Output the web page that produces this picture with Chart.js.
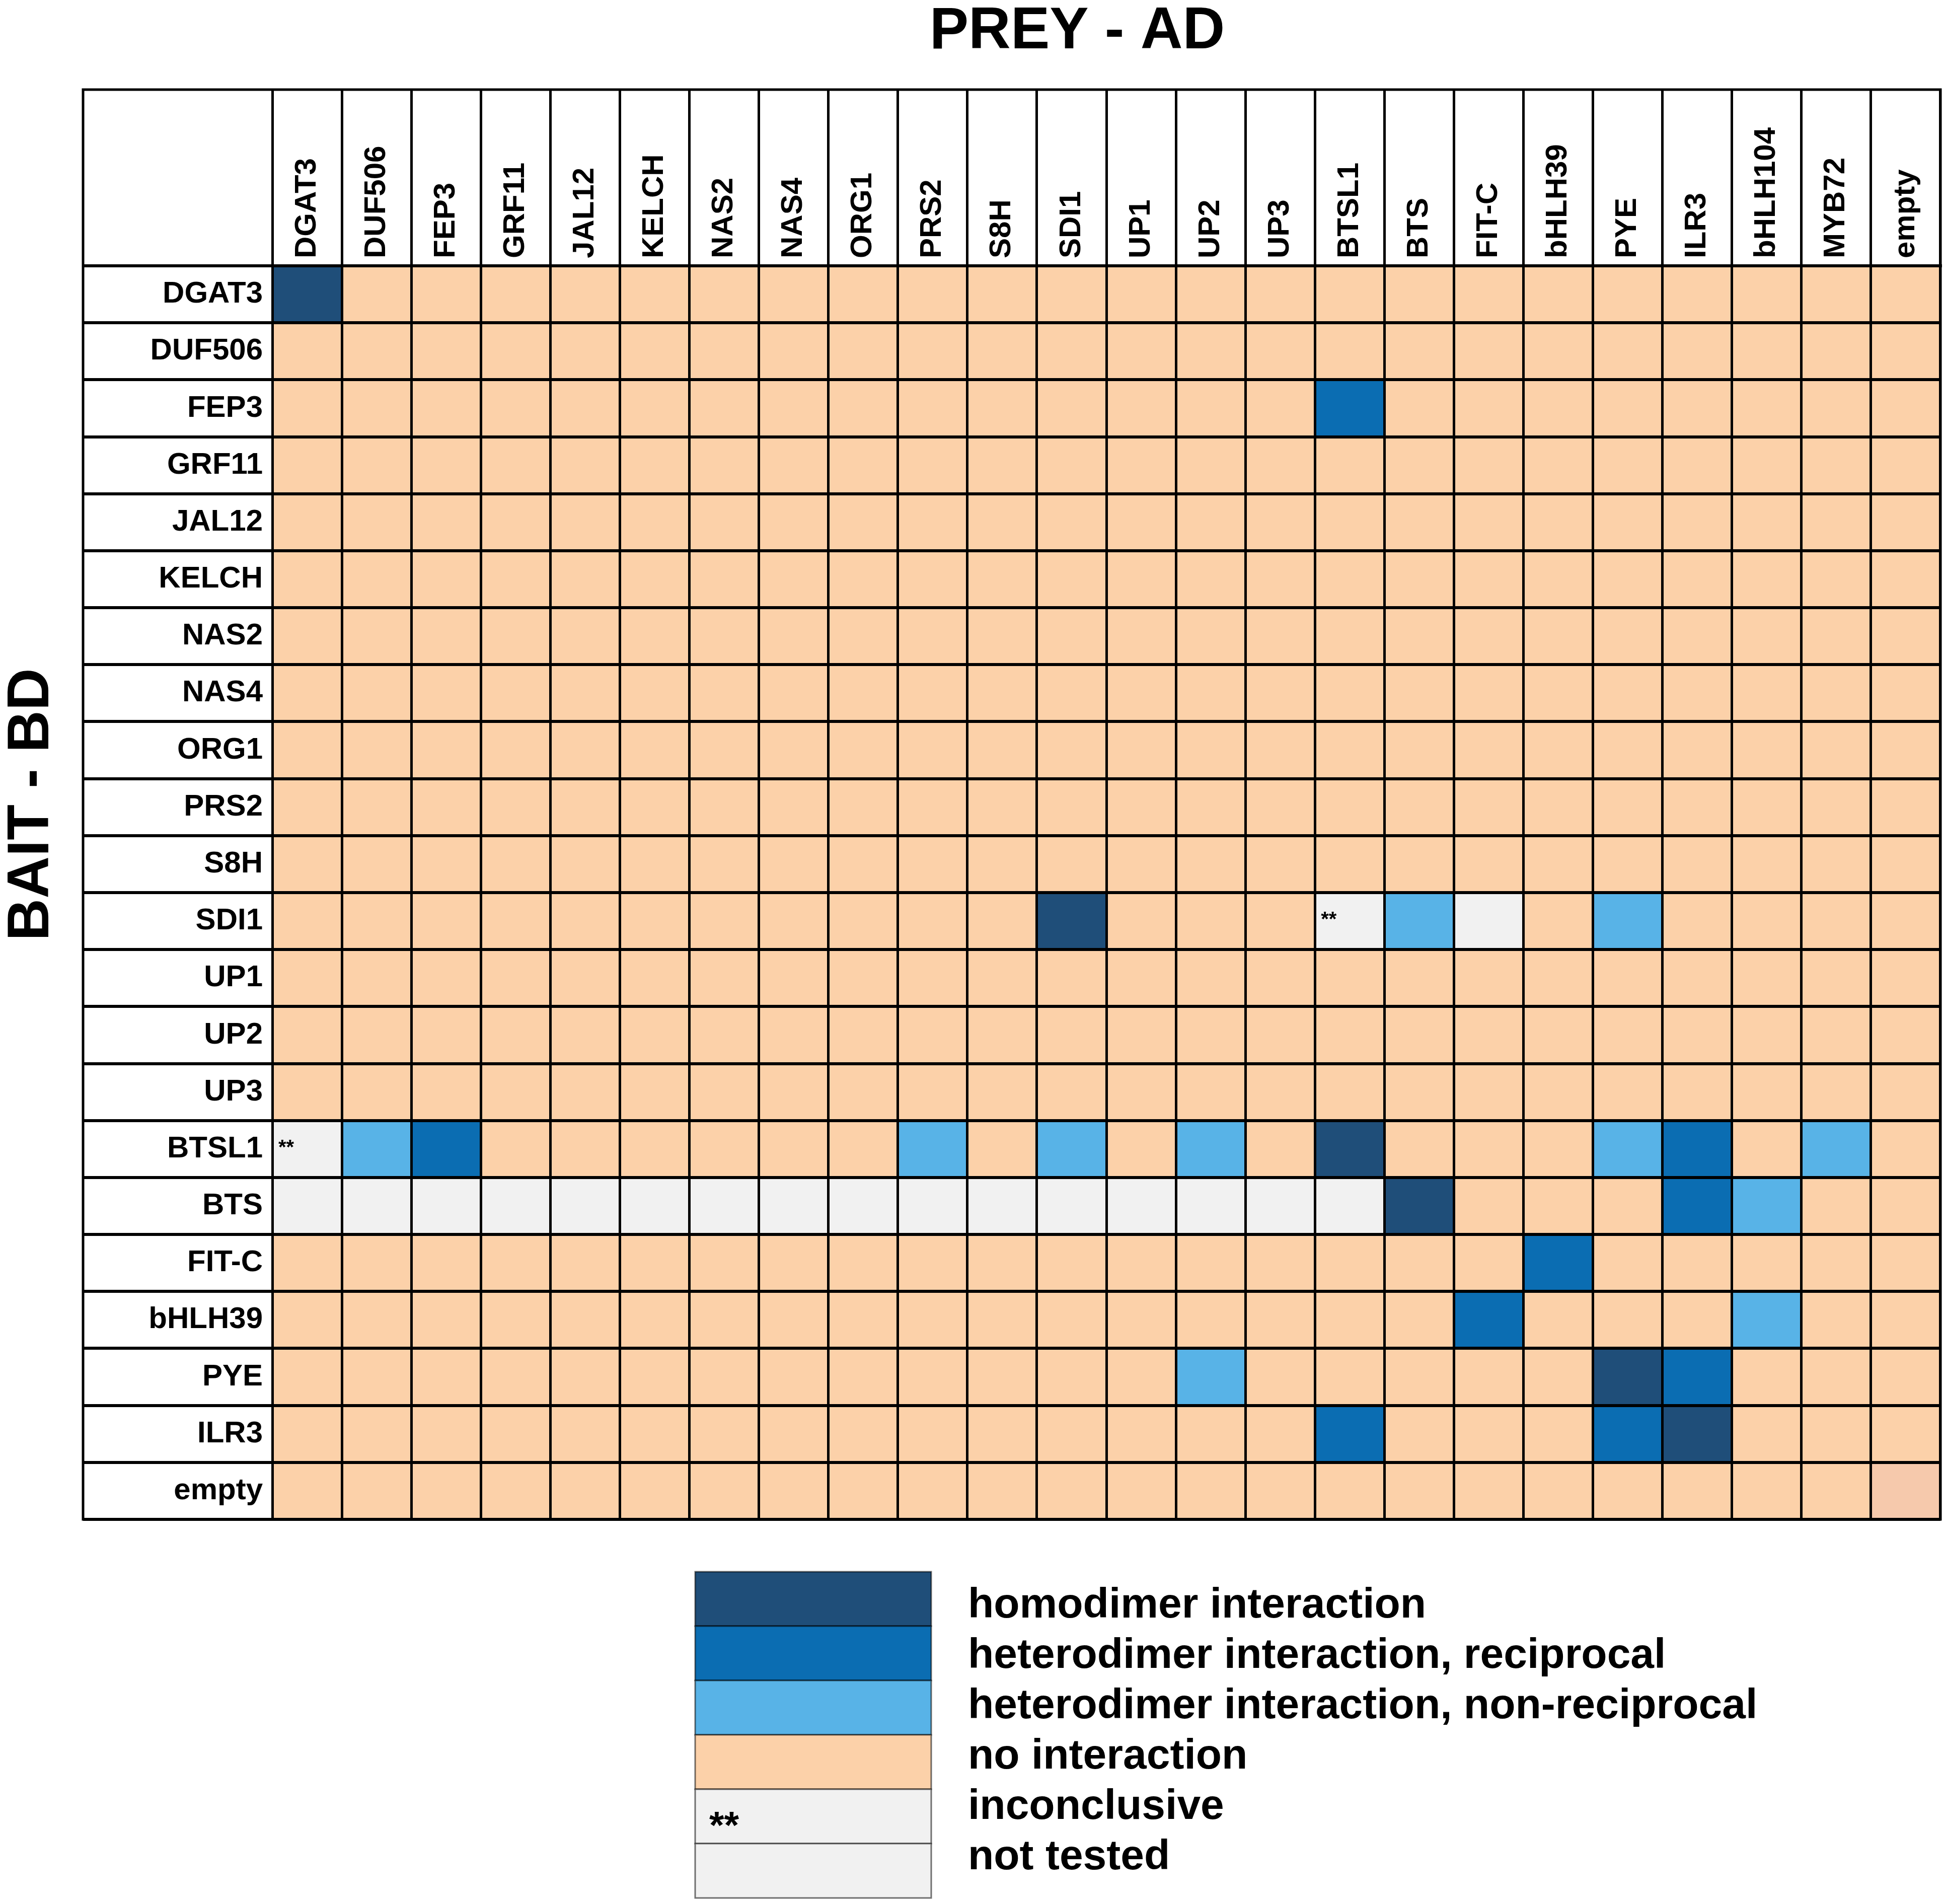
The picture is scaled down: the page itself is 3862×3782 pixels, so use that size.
<!DOCTYPE html>
<html>
<head>
<meta charset="utf-8">
<title>PREY - AD / BAIT - BD</title>
<script src="https://cdn.jsdelivr.net/npm/chart.js@4.4.1/dist/chart.umd.min.js"></script>
<style>
  html, body { margin: 0; padding: 0; background: #fff; }
  canvas { display: block; }
</style>
</head>
<body>
<canvas id="grafico" width="3862" height="3782"></canvas>
<script>
// prey (AD) columns
var presas = ['DGAT3', 'DUF506', 'FEP3', 'GRF11', 'JAL12', 'KELCH', 'NAS2', 'NAS4', 'ORG1', 'PRS2', 'S8H', 'SDI1',
              'UP1', 'UP2', 'UP3', 'BTSL1', 'BTS', 'FIT-C', 'bHLH39', 'PYE', 'ILR3', 'bHLH104', 'MYB72', 'empty'];

// bait (BD) rows
var iscas = ['DGAT3', 'DUF506', 'FEP3', 'GRF11', 'JAL12', 'KELCH', 'NAS2', 'NAS4', 'ORG1', 'PRS2', 'S8H', 'SDI1',
             'UP1', 'UP2', 'UP3', 'BTSL1', 'BTS', 'FIT-C', 'bHLH39', 'PYE', 'ILR3', 'empty'];

// one string per bait row, one letter per prey column
// H homodimer, R reciprocal, N non-reciprocal, . no interaction, I inconclusive, T not tested, E empty control
var resultados = [
    'H.......................',
    '........................',
    '...............R........',
    '........................',
    '........................',
    '........................',
    '........................',
    '........................',
    '........................',
    '........................',
    '........................',
    '...........H...INT.N....',
    '........................',
    '........................',
    '........................',
    'INR......N.N.N.H...NR.N.',
    'TTTTTTTTTTTTTTTTH...RN..',
    '..................R.....',
    '.................R...N..',
    '.............N.....HR...',
    '...............R...RH...',
    '.......................E'
];

var legendaCodigos = ['H', 'R', 'N', '.', 'I', 'T'];
var legendaTextos = ['homodimer interaction', 'heterodimer interaction, reciprocal',
                     'heterodimer interaction, non-reciprocal', 'no interaction', 'inconclusive', 'not tested'];

var cores = {
    'H': '#1F4E79',
    'R': '#0B6DB2',
    'N': '#58B3E7',
    '.': '#FCD1A9',
    'I': '#F1F1F1',
    'T': '#F1F1F1',
    'E': '#F6C9AC'
};

var FONTE = '"Liberation Sans", Arial, sans-serif';
Chart.defaults.font.family = FONTE;
Chart.defaults.color = '#000';

// frame, titles, ** marks and legend
var moldura = {
    id: 'moldura',
    afterDraw: function(chart) {
        var ctx = chart.ctx;
        var area = chart.chartArea;
        var sx = chart.scales.x;
        var sr = chart.scales.rows;
        ctx.save();

        ctx.strokeStyle = '#000';
        ctx.lineWidth = 5;
        ctx.strokeRect(sr.left, sx.top, area.right - sr.left, area.bottom - sx.top);

        ctx.fillStyle = '#000';
        ctx.textAlign = 'left';
        ctx.textBaseline = 'alphabetic';
        ctx.font = 'bold 40px ' + FONTE;
        chart.data.datasets.forEach(function(ds, r) {
            var meta = chart.getDatasetMeta(r);
            ds.codigos.forEach(function(c, i) {
                if (c !== 'I') return;
                var bar = meta.data[i].getProps(['x', 'y', 'base', 'width'], true);
                ctx.fillText('**', bar.x - bar.width / 2 + 12, Math.min(bar.y, bar.base) + 66);
            });
        });

        ctx.font = 'bold 116px ' + FONTE;
        ctx.textAlign = 'center';
        ctx.fillText('PREY - AD', (area.left + area.right) / 2 - 58, sx.top - 82);
        ctx.save();
        ctx.translate(sr.left - 69, (sx.top + area.bottom) / 2);
        ctx.rotate(-Math.PI / 2);
        ctx.fillText('BAIT - BD', 0, 0);
        ctx.restore();

        // legend
        var lx = 1381, ly = area.bottom + 104, lw = 469, lh = 108;
        legendaCodigos.forEach(function(c, i) {
            var y = ly + i * lh;
            ctx.fillStyle = cores[c];
            ctx.fillRect(lx, y, lw, lh);
            ctx.strokeStyle = 'rgba(0,0,0,0.55)';
            ctx.lineWidth = 3;
            ctx.strokeRect(lx, y, lw, lh);
            ctx.fillStyle = '#000';
            if (c === 'I') {
                ctx.textAlign = 'left';
                ctx.font = 'bold 76px ' + FONTE;
                ctx.fillText('**', lx + 28, y + 97);
            }
            ctx.textAlign = 'left';
            ctx.font = 'bold 84px ' + FONTE;
            ctx.fillText(legendaTextos[i], lx + 542, ly + 91 + i * 100);
        });
        ctx.restore();
    }
};

function MontaGrafico() {
    var datasets = iscas.map(function(isca, r) {
        var linha = resultados[r].split('');
        return {
            label: isca,
            data: presas.map(function() { return 1; }),
            codigos: linha,
            backgroundColor: linha.map(function(c) { return cores[c]; }),
            stack: 'tabela',
            barPercentage: 1,
            categoryPercentage: 1,
            borderWidth: 0
        };
    });

    new Chart(document.getElementById('grafico'), {
        type: 'bar',
        data: { labels: presas, datasets: datasets },
        plugins: [moldura],
        options: {
            responsive: false,
            devicePixelRatio: 1,
            animation: false,
            layout: { padding: { left: 165, top: 178, right: 7, bottom: 764 } },
            plugins: {
                legend: { display: false },
                tooltip: { enabled: false },
                title: { display: false }
            },
            scales: {
                x: {
                    type: 'category',
                    position: 'top',
                    stacked: true,
                    offset: true,
                    grid: { offset: true, color: '#000', lineWidth: 5, tickLength: 350, z: 1 },
                    border: { display: true, color: '#000', width: 6, z: 1 },
                    ticks: {
                        autoSkip: false,
                        minRotation: 90,
                        maxRotation: 90,
                        padding: -335,
                        labelOffset: 72,
                        font: { size: 60, weight: 'bold' }
                    },
                    afterFit: function(scale) { scale.height = 350; }
                },
                y: {
                    type: 'linear',
                    display: false,
                    stacked: true,
                    min: 0,
                    max: iscas.length,
                    reverse: true
                },
                rows: {
                    type: 'category',
                    position: 'left',
                    labels: iscas,
                    offset: true,
                    grid: { offset: true, color: '#000', lineWidth: 6, tickLength: 376, z: 1 },
                    border: { display: true, color: '#000', width: 5, z: 1 },
                    ticks: {
                        autoSkip: false,
                        padding: -357,
                        font: { size: 60, weight: 'bold' }
                    },
                    afterFit: function(scale) { scale.width = 376; }
                }
            }
        }
    });
}

MontaGrafico();
</script>
</body>
</html>
